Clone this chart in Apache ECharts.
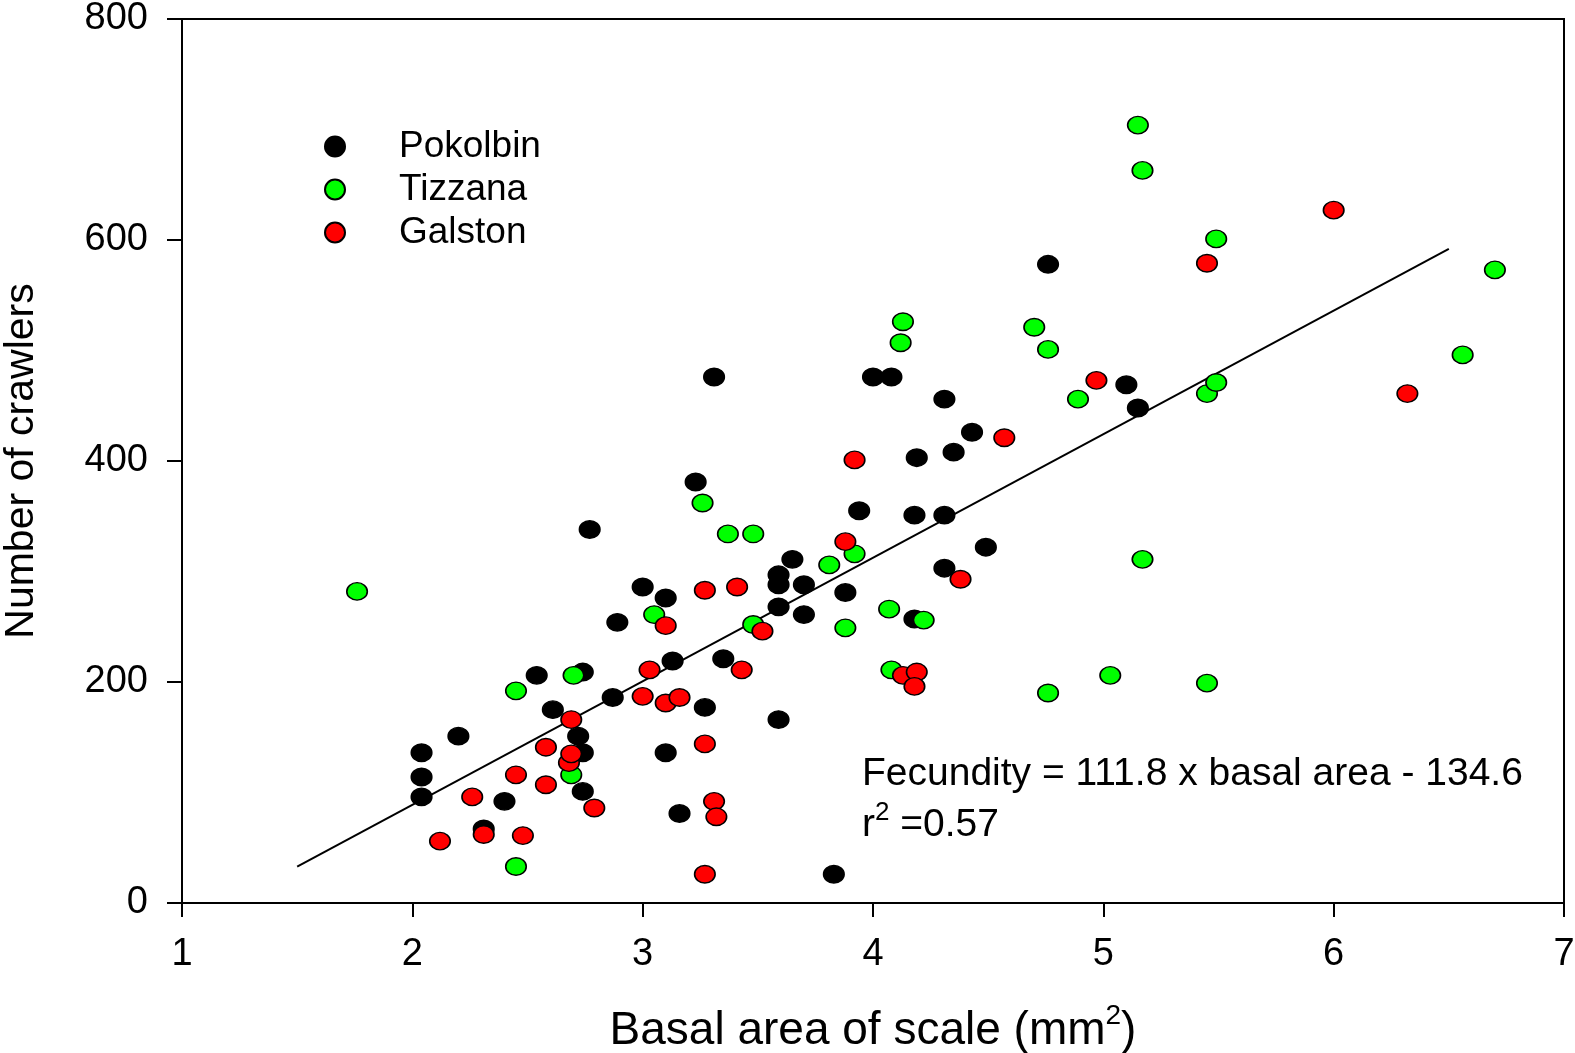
<!DOCTYPE html>
<html>
<head>
<meta charset="utf-8">
<script src="https://cdn.jsdelivr.net/npm/echarts@6/dist/echarts.min.js"></script>
<style>
  html, body { margin: 0; padding: 0; background: #fff; }
  #chart { width: 1575px; height: 1053px; }
</style>
</head>
<body>
<div id="chart"></div>
<script>
// basal area (mm2), number of crawlers
const pokolbin = [
  [2.04, 136], [2.04, 114], [2.04, 96], [2.20, 151], [2.31, 67], [2.40, 92],
  [2.54, 206], [2.61, 175], [2.72, 151], [2.74, 136], [2.74, 101], [2.74, 209],
  [2.77, 338], [2.87, 186], [2.89, 254], [3.00, 286], [3.10, 276], [3.10, 136],
  [3.13, 219], [3.16, 81], [3.23, 381], [3.27, 177], [3.31, 476], [3.35, 221],
  [3.59, 166], [3.59, 268], [3.59, 288], [3.59, 297], [3.65, 311], [3.70, 288],
  [3.70, 261], [3.83, 26], [3.88, 281], [3.94, 355], [4.00, 476], [4.08, 476],
  [4.18, 351], [4.19, 403], [4.18, 257], [4.31, 456], [4.31, 351], [4.31, 303],
  [4.35, 408], [4.43, 426], [4.49, 322], [4.76, 578], [5.10, 469], [5.15, 448]
]
const tizzana = [
  [1.76, 282], [2.45, 192], [2.45, 33], [2.69, 116], [2.70, 206], [3.05, 261],
  [3.26, 362], [3.37, 334], [3.48, 334], [3.48, 252], [3.81, 306], [3.92, 316],
  [3.88, 249], [4.07, 266], [4.08, 211], [4.13, 526], [4.12, 507], [4.22, 256],
  [4.70, 521], [4.76, 501], [4.89, 456], [4.76, 190], [5.03, 206], [5.15, 704],
  [5.17, 663], [5.17, 311], [5.45, 461], [5.49, 471], [5.49, 601], [5.45, 199],
  [6.56, 496], [6.70, 573]
]
const galston = [
  [2.12, 56], [2.26, 96], [2.31, 62], [2.45, 116], [2.48, 61], [2.58, 107],
  [2.58, 141], [2.69, 166], [2.68, 127], [2.69, 135], [2.79, 86], [3.00, 187],
  [3.03, 211], [3.10, 251], [3.10, 181], [3.16, 186], [3.27, 283], [3.27, 144],
  [3.27, 26], [3.31, 92], [3.32, 78], [3.41, 286], [3.43, 211], [3.52, 246],
  [3.88, 327], [3.92, 401], [4.13, 206], [4.19, 209], [4.18, 196], [4.38, 293],
  [4.57, 421], [4.97, 473], [5.45, 579], [6.00, 627], [6.32, 461]
]
// regression line ends, as drawn
const fitLine = [[1.5, 33], [6.5, 592]]

const font = "'Liberation Sans', Arial, sans-serif"
const dotSize = [20.5, 17.5]

const chart = echarts.init(document.getElementById('chart'), null, { renderer: 'canvas' })

const dots = (name, data, color) => ({
  name: name,
  type: 'scatter',
  data: data,
  symbol: 'circle',
  symbolSize: dotSize,
  itemStyle: { color: color, borderColor: '#000', borderWidth: 1.5, opacity: 1 },
  emphasis: { disabled: true }
})

const option = {
  animation: false,
  backgroundColor: '#fff',
  grid: {
    left: 182, right: 11, top: 19, bottom: 150,
    outerBoundsMode: 'none',
    containLabel: false,
    show: true, borderColor: '#000', borderWidth: 2
  },
  legend: {
    orient: 'vertical',
    left: 319,
    top: 123,
    itemWidth: 22,
    itemHeight: 20,
    itemGap: 6,
    icon: 'circle',
    data: ['Pokolbin', 'Tizzana', 'Galston'],
    textStyle: {
      fontFamily: font, fontSize: 37, color: '#000',
      padding: [0, 0, 0, 48]
    }
  },
  xAxis: {
    type: 'value',
    min: 1, max: 7, interval: 1,
    name: 'Basal area of scale (mm{sup|2})',
    nameLocation: 'middle',
    nameGap: 99,
    nameTextStyle: {
      fontFamily: font, fontSize: 46, color: '#000',
      rich: { sup: { fontFamily: font, fontSize: 28, verticalAlign: 'top', padding: [0, 0, 30, 0] } }
    },
    splitLine: { show: false },
    axisLine: { show: true, onZero: false, lineStyle: { color: '#000', width: 2 } },
    axisTick: { show: true, inside: false, length: 14, lineStyle: { color: '#000', width: 2 } },
    axisLabel: { margin: 33, fontFamily: font, fontSize: 38, color: '#000' }
  },
  yAxis: {
    type: 'value',
    min: 0, max: 800, interval: 200,
    name: 'Number of crawlers',
    nameLocation: 'middle',
    nameGap: 140,
    nameRotate: 90,
    nameTextStyle: { fontFamily: font, fontSize: 41, color: '#000' },
    splitLine: { show: false },
    axisLine: { show: true, onZero: false, lineStyle: { color: '#000', width: 2 } },
    axisTick: { show: true, inside: false, length: 15, lineStyle: { color: '#000', width: 2 } },
    axisLabel: { margin: 34, fontFamily: font, fontSize: 38, color: '#000' }
  },
  graphic: [
    {
      type: 'text', left: 862, top: 755,
      style: { text: 'Fecundity = 111.8 x basal area - 134.6', font: '39px ' + font, fill: '#000' }
    },
    {
      type: 'text', left: 862, top: 800,
      style: {
        text: 'r{sup|2} =0.57',
        font: '39px ' + font, fill: '#000',
        rich: { sup: { fontSize: 26, fontFamily: font, verticalAlign: 'top', padding: [0, 0, 24, 0] } }
      }
    }
  ],
  series: [
    dots('Pokolbin', pokolbin, '#000000'),
    dots('Tizzana', tizzana, '#00ff00'),
    dots('Galston', galston, '#ff0000'),
    {
      name: 'fit',
      type: 'line',
      data: fitLine,
      symbol: 'none',
      z: 1,
      lineStyle: { color: '#000', width: 2 },
      emphasis: { disabled: true }
    }
  ]
}

chart.setOption(option)
</script>
</body>
</html>
